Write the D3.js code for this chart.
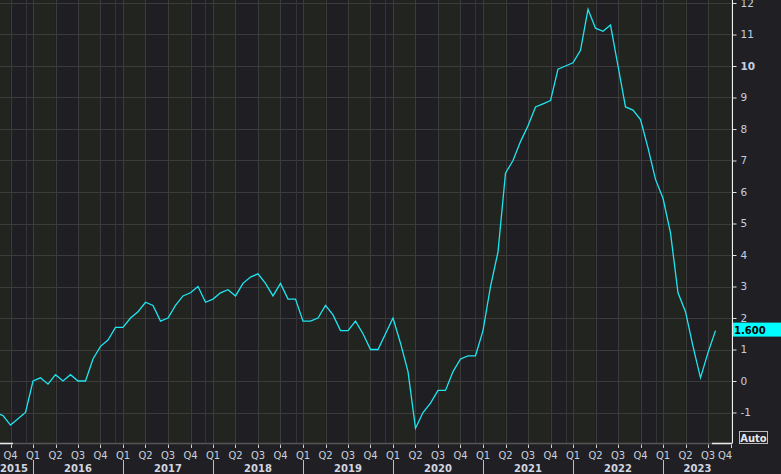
<!DOCTYPE html>
<html><head><meta charset="utf-8">
<script src="https://cdn.jsdelivr.net/npm/d3@7"></script>
<style>body{margin:0;background:#201f23;} svg{display:block;}</style>
</head><body><svg id="c" width="781" height="474"></svg>
<script>
// Monthly values starting Aug 2015 (month index -5 relative to Jan 2016)
const firstMonthIndex = -5;
const values = [
  -1.0, -1.1, -1.4, -1.2, -1.0,
  0.0, 0.1, -0.1, 0.2, 0.0, 0.2, 0.0, 0.0, 0.7, 1.1, 1.3, 1.7,
  1.7, 2.0, 2.2, 2.5, 2.4, 1.9, 2.0, 2.4, 2.7, 2.8, 3.0, 2.5,
  2.6, 2.8, 2.9, 2.7, 3.1, 3.3, 3.4, 3.1, 2.7, 3.1, 2.6, 2.6,
  1.9, 1.9, 2.0, 2.4, 2.1, 1.6, 1.6, 1.9, 1.5, 1.0, 1.0, 1.5,
  2.0, 1.2, 0.3, -1.5, -1.0, -0.7, -0.3, -0.3, 0.3, 0.7, 0.8, 0.8,
  1.6, 3.0, 4.1, 6.6, 7.0, 7.6, 8.1, 8.7, 8.8, 8.9, 9.9, 10.0,
  10.1, 10.5, 11.8, 11.2, 11.1, 11.3, 10.0, 8.7, 8.6, 8.3, 7.4, 6.4,
  5.8, 4.7, 2.8, 2.2, 1.1, 0.1, 0.9, 1.6
];
const yTicks = [-1, 0, 1, 2, 3, 4, 5, 6, 7, 8, 9, 10, 11, 12];
const quarterLabels = ["Q1", "Q2", "Q3", "Q4"];
const years = [2015, 2016, 2017, 2018, 2019, 2020, 2021, 2022, 2023];
const lastLabel = "1.600";
const autoLabel = "Auto";

const data = values.map((v, i) => ({m: i + firstMonthIndex, v}));

const svg = d3.select("#c");
const W = 781, H = 474, plotR = 732, plotB = 443.5;
const x = d3.scaleLinear().domain([-4.4, 93.2]).range([0, plotR]);
const y = d3.scaleLinear().domain([-1, 12]).range([412.5, 3]);
const font = "DejaVu Sans, Verdana, sans-serif";

svg.append("rect").attr("width", W).attr("height", H).attr("fill", "#201f23");

svg.append("defs").append("clipPath").attr("id", "clip")
  .append("rect").attr("x", 0).attr("y", 0).attr("width", plotR).attr("height", plotB);
const plot = svg.append("g").attr("clip-path", "url(#clip)");

// quarter bands
const quarters = d3.range(-6, 96, 3);
plot.selectAll(".band").data(quarters).join("rect")
  .attr("x", d => x(d)).attr("y", 0)
  .attr("width", d => x(d + 3) - x(d)).attr("height", plotB)
  .attr("fill", d => (((d % 12) + 12) % 12 / 3) % 2 === 0 ? "#222420" : "#1f1e22");

// horizontal grid
plot.selectAll(".hg").data(yTicks).join("line")
  .attr("x1", 0).attr("x2", plotR)
  .attr("y1", d => Math.round(y(d)) + 0.5).attr("y2", d => Math.round(y(d)) + 0.5)
  .attr("stroke", "#3b3b3b").attr("stroke-width", 1);

// vertical grid at quarters
plot.selectAll(".vg").data(quarters).join("line")
  .attr("x1", d => Math.round(x(d)) + 0.5).attr("x2", d => Math.round(x(d)) + 0.5)
  .attr("y1", 0).attr("y2", plotB)
  .attr("stroke", "#3b3b3b").attr("stroke-width", 1);
// december lines
const decs = d3.range(-1, 95, 12);
plot.selectAll(".dg").data(decs).join("line")
  .attr("x1", d => Math.round(x(d)) + 0.5).attr("x2", d => Math.round(x(d)) + 0.5)
  .attr("y1", 0).attr("y2", plotB)
  .attr("stroke", "#353535").attr("stroke-width", 1);

// data line
plot.append("path").datum(data)
  .attr("d", d3.line().x(d => x(d.m)).y(d => y(d.v)))
  .attr("fill", "none").attr("stroke", "#1ee6f0").attr("stroke-width", 1.3);

// bottom line
svg.append("line").attr("x1", 0).attr("x2", plotR).attr("y1", plotB).attr("y2", plotB)
  .attr("stroke", "#555").attr("stroke-width", 1.5);
svg.append("line").attr("x1", 0).attr("x2", 13).attr("y1", plotB).attr("y2", plotB)
  .attr("stroke", "#e8e8e8").attr("stroke-width", 1.5);
svg.append("line").attr("x1", 712).attr("x2", plotR).attr("y1", plotB).attr("y2", plotB)
  .attr("stroke", "#e8e8e8").attr("stroke-width", 1.5);

// right axis
const yAxis = d3.axisRight(y).tickValues(yTicks).tickSize(4).tickPadding(4)
  .tickFormat(d => String(d));
const ya = svg.append("g").attr("transform", `translate(${plotR + 0.5},0)`).call(yAxis);
ya.select(".domain").attr("stroke", "#f0f0f0").attr("d", `M0,0V${plotB}`);
ya.selectAll(".tick line").attr("stroke", "#e0e0e0");
ya.selectAll(".tick text").attr("fill", "#c3cfe2").attr("font-family", font).attr("font-size", 10.5)
  .attr("font-weight", d => d === 10 ? "bold" : "normal");

// x axis ticks & labels
const xticks = d3.range(-3, 94, 3);
const xg = svg.append("g");
xg.selectAll(".xt").data(xticks).join("line")
  .attr("x1", d => Math.round(x(d)) + 0.5).attr("x2", d => Math.round(x(d)) + 0.5)
  .attr("y1", plotB + 1).attr("y2", plotB + 4.5)
  .attr("stroke", "#cfcfcf");
xg.selectAll(".xl").data(xticks).join("text")
  .attr("x", d => Math.min(x(d), plotR - 7)).attr("y", 459)
  .attr("text-anchor", "middle")
  .attr("fill", "#c8d0dc").attr("font-family", font).attr("font-size", 10)
  .text(d => quarterLabels[(((d % 12) + 12) % 12) / 3]);

// year separators and labels
const yearStarts = years.map(yv => (yv - 2016) * 12);
xg.selectAll(".ys").data(yearStarts.filter(m => x(m) > 0)).join("line")
  .attr("x1", d => Math.round(x(d)) + 0.5).attr("x2", d => Math.round(x(d)) + 0.5)
  .attr("y1", 460).attr("y2", H)
  .attr("stroke", "#bdbdbd");
xg.selectAll(".yl").data(years).join("text")
  .attr("x", yv => {
    const m0 = (yv - 2016) * 12;
    const a = Math.max(x(m0), 0), b = Math.min(x(m0 + 12), plotR);
    return yv === 2015 ? 14 : (a + b) / 2;
  })
  .attr("y", 472).attr("text-anchor", "middle")
  .attr("fill", "#d0d6e0").attr("font-family", font).attr("font-size", 10).attr("font-weight", "bold")
  .text(d => d);

// last value label
const lv = values[values.length - 1];
svg.append("rect").attr("x", plotR + 1).attr("y", y(lv) - 8).attr("width", W - plotR - 1).attr("height", 14)
  .attr("fill", "#00ffff");
svg.append("text").attr("x", plotR + 2).attr("y", y(lv) + 3.5)
  .attr("fill", "#000").attr("font-family", font).attr("font-size", 10).attr("font-weight", "bold")
  .text(lastLabel);

// Auto box
svg.append("rect").attr("x", 739.5).attr("y", 431.5).attr("width", 28).attr("height", 12)
  .attr("fill", "none").attr("stroke", "#bbbbbb");
svg.append("text").attr("x", 753.5).attr("y", 441.5).attr("text-anchor", "middle")
  .attr("fill", "#e6e6ee").attr("font-family", font).attr("font-size", 10).attr("font-weight", "bold")
  .text(autoLabel);
</script></body></html>
